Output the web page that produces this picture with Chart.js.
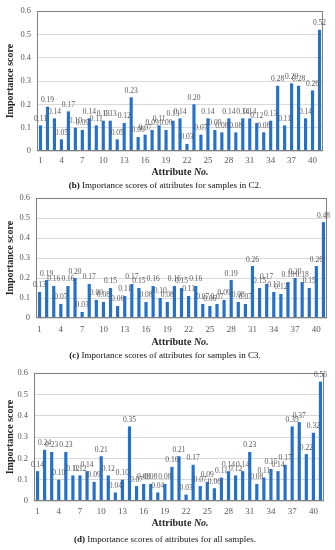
<!DOCTYPE html>
<html><head><meta charset="utf-8">
<script src="https://cdn.jsdelivr.net/npm/chart.js@4"></script>
<style>
body{margin:0;background:#fff;}
#wrap{position:relative;width:335px;height:550px;overflow:hidden;background:#fff;font-family:"Liberation Serif","DejaVu Serif",serif;}
canvas{position:absolute;left:0;}
.xt{position:absolute;font-weight:bold;font-size:10px;color:#262626;white-space:nowrap;transform:translate(-50%,-50%);line-height:1;}
.cap{position:absolute;font-size:9px;color:#111;white-space:nowrap;transform:translate(-50%,-50%);line-height:1;}
</style></head><body>
<div id="wrap">
<canvas id="c1" width="335" height="168" style="top:0px"></canvas>
<div class="xt" style="left:180px;top:172px">Attribute <i>No.</i></div>
<div class="cap" style="left:165px;top:185px"><b>(b)</b> Importance scores of attributes for samples in C2.</div>
<canvas id="c2" width="335" height="148" style="top:187px"></canvas>
<div class="xt" style="left:180px;top:342px">Attribute <i>No.</i></div>
<div class="cap" style="left:165px;top:355px"><b>(c)</b> Importance scores of attributes for samples in C3.</div>
<canvas id="c3" width="335" height="158" style="top:362px"></canvas>
<div class="xt" style="left:180px;top:523px">Attribute <i>No.</i></div>
<div class="cap" style="left:165px;top:539px"><b>(d)</b> Importance scores of attributes for all samples.</div>
</div>
<script>
const categories = ['1','2','3','4','5','6','7','8','9','10','11','12','13','14','15','16','17','18','19','20','21','22','23','24','25','26','27','28','29','30','31','32','33','34','35','36','37','38','39','40','41'];
const xTickLabels = ['1','4','7','10','13','16','19','22','25','28','31','34','37','40'];
const yTicks = [0,0.1,0.2,0.3,0.4,0.5,0.6];

const scoresC2 = [0.11,0.19,0.14,0.05,0.17,0.10,0.09,0.14,0.11,0.13,0.13,0.05,0.12,0.23,0.06,0.07,0.09,0.11,0.09,0.13,0.14,0.03,0.20,0.07,0.14,0.09,0.08,0.14,0.08,0.14,0.14,0.12,0.08,0.13,0.28,0.11,0.29,0.28,0.14,0.26,0.52];
const scoresC3 = [0.13,0.19,0.16,0.07,0.16,0.20,0.03,0.17,0.09,0.08,0.15,0.06,0.11,0.17,0.15,0.08,0.16,0.10,0.08,0.16,0.15,0.11,0.16,0.07,0.06,0.07,0.09,0.19,0.08,0.07,0.26,0.15,0.17,0.13,0.12,0.18,0.20,0.18,0.15,0.26,0.48];
const scoresAll = [0.14,0.24,0.23,0.10,0.23,0.12,0.12,0.14,0.09,0.21,0.12,0.04,0.10,0.35,0.07,0.08,0.08,0.04,0.08,0.16,0.21,0.03,0.17,0.07,0.09,0.06,0.11,0.14,0.12,0.14,0.23,0.08,0.11,0.15,0.14,0.17,0.35,0.37,0.22,0.32,0.56];

const SERIF = '"Liberation Serif","DejaVu Serif",serif';

const framePlugin = {
  id:'frame',
  afterDatasetsDraw(chart){
    const {ctx, chartArea:a} = chart;
    ctx.save();
    ctx.strokeStyle = '#7f7f7f';
    ctx.lineWidth = 1;
    const l = Math.round(a.left)+0.5, t = Math.round(a.top)+0.5;
    const r = Math.round(a.right)-0.5, b = Math.round(a.bottom)-0.5;
    ctx.strokeRect(l, t, r-l, b-t);
    ctx.restore();
  }
};
const valuePlugin = {
  id:'vals',
  afterDraw(chart){
    const ctx = chart.ctx;
    const meta = chart.getDatasetMeta(0);
    const data = chart.data.datasets[0].data;
    ctx.save();
    ctx.font = '7.5px ' + SERIF;
    ctx.fillStyle = '#595959';
    ctx.textAlign = 'center';
    ctx.textBaseline = 'middle';
    meta.data.forEach((bar,i)=>{
      ctx.fillText(data[i].toFixed(2), bar.x, bar.y - 6.5);
    });
    ctx.restore();
  }
};

function makeChart(id, values, o){
  new Chart(document.getElementById(id), {
    type:'bar',
    data:{labels:categories, datasets:[{data:values, backgroundColor:'#2570c8', borderWidth:0, barPercentage:0.45, categoryPercentage:1}]},
    options:{
      responsive:false, animation:false, devicePixelRatio:1,
      layout:{padding:{top:10, left:0, right:o.right, bottom:0}},
      plugins:{legend:{display:false}, tooltip:{enabled:false}},
      scales:{
        x:{
          offset:true,
          grid:{display:false, drawTicks:false},
          border:{display:false},
          afterFit(s){ s.height = o.xh; },
          ticks:{autoSkip:false, maxRotation:0, padding:o.tp, color:'#595959', font:{family:SERIF, size:9},
            callback(v,i){ const l = categories[i]; return xTickLabels.includes(l) ? l : ''; }}
        },
        y:{
          min:0, max:0.6,
          afterBuildTicks(s){ s.ticks = yTicks.map(v=>({value:v})); },
          afterFit(s){ s.width = o.left; },
          grid:{color:'#d9d9d9', drawTicks:false},
          border:{display:false},
          ticks:{padding:6, color:'#595959', font:{family:SERIF, size:8.5}},
          title:{display:true, text:'Importance score', color:'#262626', padding:{top:4,bottom:0}, font:{family:SERIF, size:10, weight:'bold'}}
        }
      }
    },
    plugins:[framePlugin, valuePlugin]
  });
}
makeChart('c1', scoresC2, {left:37, right:12, xh:17, tp:4});
makeChart('c2', scoresC3, {left:36, right:8, xh:17, tp:6});
makeChart('c3', scoresAll, {left:34, right:11, xh:19, tp:5});
</script>
</body></html>
